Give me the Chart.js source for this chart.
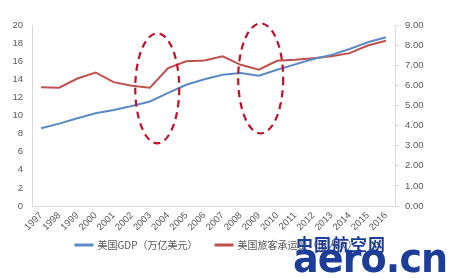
<!DOCTYPE html>
<html>
<head>
<meta charset="utf-8">
<script src="https://cdn.jsdelivr.net/npm/chart.js@4/dist/chart.umd.min.js"></script>
<style>
  html, body { margin: 0; padding: 0; background: #fff; }
  #wrap { position: relative; width: 449px; height: 278px; overflow: hidden; }
  #wm1 { position: absolute; left: 296px; top: 231px; font: bold 17px "Noto Sans CJK SC"; color: #1c3d98; letter-spacing: 1px; }
  #wm2 { position: absolute; left: 293px; top: 234px; font: bold 41px "DejaVu Sans"; color: #1c3d98; transform: scaleX(0.93); transform-origin: left top; letter-spacing: -1px; }
</style>
</head>
<body>
<div id="wrap">
  <canvas id="chart" width="449" height="278"></canvas>
  <div id="wm1">中国航空网</div>
  <div id="wm2">aero.cn</div>
</div>
<script>
const years = ['1997','1998','1999','2000','2001','2002','2003','2004','2005','2006',
  '2007','2008','2009','2010','2011','2012','2013','2014','2015','2016'];
const gdp = [8.6, 9.1, 9.7, 10.25, 10.6, 11.05, 11.55, 12.5, 13.4, 14.0,
  14.5, 14.7, 14.4, 15.05, 15.65, 16.25, 16.7, 17.35, 18.1, 18.65];
const passengers = [5.9, 5.88, 6.34, 6.64, 6.16, 5.98, 5.88, 6.86, 7.2, 7.24,
  7.44, 7.02, 6.78, 7.22, 7.27, 7.35, 7.45, 7.6, 7.98, 8.22];
const gdpLabel = '美国GDP（万亿美元）';
const paxLabel = '美国旅客承运量（亿人次）';

const blue = '#5b8ac6';
const red = '#c0504d';
const axisColor = '#d9d9d9';
const textColor = '#595959';
const font = { family: '"Liberation Sans", "Noto Sans CJK SC"', size: 9.5 };

// dashed ellipses, centred on (category index, left axis value)
const circles = [
  { x: 6.4, y: 13.0, rx: 22, ry: 55 },
  { x: 12.1, y: 14.1, rx: 22.5, ry: 55 }
];

const ellipsePlugin = {
  id: 'ellipses',
  afterLayout(chart) {
    // pull the legend up closer to the rotated year labels
    const lg = chart.legend;
    if (lg) { lg.top -= 12; lg.bottom -= 12; }
  },
  afterDatasetsDraw(chart) {
    const ctx = chart.ctx;
    const xs = chart.scales.x, ys = chart.scales.y;
    ctx.save();
    ctx.strokeStyle = '#c0102a';
    ctx.lineWidth = 2.2;
    ctx.setLineDash([7, 5]);
    circles.forEach(c => {
      ctx.beginPath();
      ctx.ellipse(xs.getPixelForValue(c.x), ys.getPixelForValue(c.y), c.rx, c.ry, 0, 0, Math.PI * 2);
      ctx.stroke();
    });
    ctx.restore();
  }
};

new Chart(document.getElementById('chart'), {
  type: 'line',
  data: {
    labels: years,
    datasets: [
      { label: gdpLabel, data: gdp, yAxisID: 'y', borderColor: blue, backgroundColor: blue,
        borderWidth: 2, pointRadius: 0, tension: 0 },
      { label: paxLabel, data: passengers, yAxisID: 'y1', borderColor: red, backgroundColor: red,
        borderWidth: 2, pointRadius: 0, tension: 0 }
    ]
  },
  options: {
    responsive: false,
    animation: false,
    layout: { padding: { top: 25, left: 0, right: 16, bottom: 6 } },
    plugins: {
      tooltip: { enabled: false },
      legend: {
        position: 'bottom',
        labels: {
          color: textColor,
          font: { family: '"Noto Sans CJK SC"', size: 10 },
          boxWidth: 17,
          boxHeight: 1,
          padding: 18
        }
      }
    },
    scales: {
      x: {
        offset: true,
        grid: { display: false, drawTicks: false },
        border: { display: true, color: axisColor },
        ticks: { color: textColor, font: font, minRotation: 45, maxRotation: 45, padding: 4, autoSkip: false },
        afterFit(s) { s.height = 28; }
      },
      y: {
        position: 'left',
        min: 0, max: 20,
        ticks: { stepSize: 2, color: textColor, font: font, padding: 9 },
        grid: { display: false, drawTicks: false },
        border: { display: true, color: axisColor },
        afterFit(s) { s.width = 32; }
      },
      y1: {
        position: 'right',
        min: 0, max: 9,
        ticks: { stepSize: 1, color: textColor, font: font, padding: 6,
          callback: v => Number(v).toFixed(2) },
        grid: { drawOnChartArea: false, tickLength: 4, color: axisColor },
        border: { display: true, color: axisColor },
        afterFit(s) { s.width = 38; }
      }
    }
  },
  plugins: [ellipsePlugin]
});
</script>
</body>
</html>
